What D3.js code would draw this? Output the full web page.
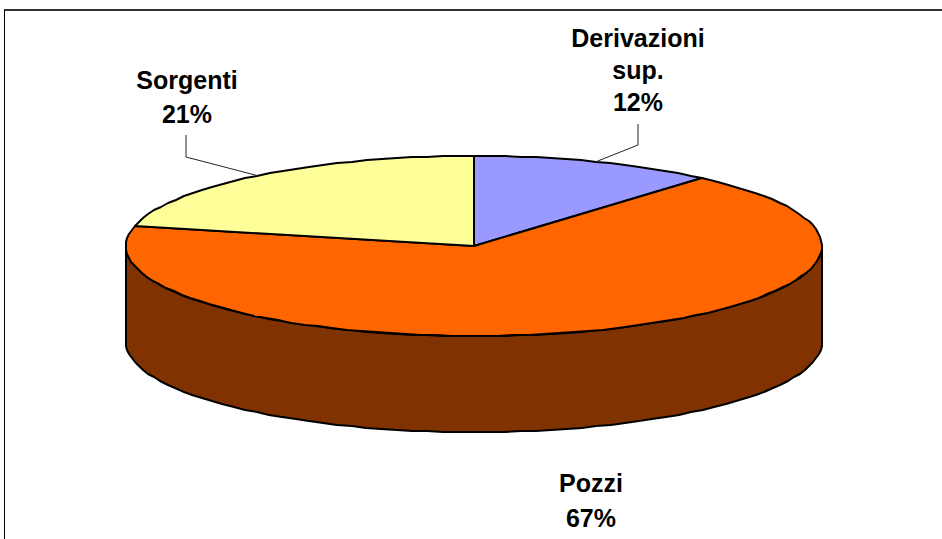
<!DOCTYPE html>
<html>
<head>
<meta charset="utf-8">
<script src="https://cdn.jsdelivr.net/npm/d3@7/dist/d3.min.js"></script>
<style>
html,body{margin:0;padding:0;background:#fff;overflow:hidden}
svg{display:block}
text{font-family:"Liberation Sans",Arial,sans-serif;font-weight:bold;font-size:25px;fill:#000;text-anchor:middle}
</style>
</head>
<body>
<script>
const categories = ["Derivazioni sup.", "Pozzi", "Sorgenti"];
const shares = [11.4, 67.2, 21.4];
const percentLabels = ["12%", "67%", "21%"];
const labelLines = [["Derivazioni", "sup."], ["Pozzi"], ["Sorgenti"]];
const topColors = ["#9999FF", "#FF6600", "#FFFF99"];
const sideColor = "#803300";

const W = 942, H = 539;
const svg = d3.select("body").append("svg").attr("width", W).attr("height", H);

// frame
svg.append("line").attr("x1",4).attr("x2",W).attr("y1",10).attr("y2",10).attr("stroke","#333").attr("stroke-width",2);
svg.append("line").attr("x1",4.5).attr("x2",4.5).attr("y1",10).attr("y2",H).attr("stroke","#000").attr("stroke-width",1);

// ellipse projection of the unit circle
const xS = d3.scaleLinear().domain([-1,1]).range([126,822]);
const yS = d3.scaleLinear().domain([-1,1]).range([156,336]);
const depth = 96;
const px = a => Math.round(xS(Math.sin(a)));
const py = (a, d=0) => Math.round(yS(-Math.cos(a))) + d;
const STEP = Math.PI/70;
const sample = (a0,a1) => { const n=Math.max(1,Math.ceil((a1-a0)/STEP)); return d3.range(n+1).map(i=>a0+(a1-a0)*i/n); };
const line = d3.line();
const pie = d3.pie().sort(null).value(d=>d)(shares);

// cylinder wall
const wallTop = sample(Math.PI/2, 3*Math.PI/2).map(a=>[px(a),py(a)]);
const wallBot = sample(Math.PI/2, 3*Math.PI/2).reverse().map(a=>[px(a),py(a,depth)]);
svg.append("path").attr("d", line(wallTop.concat(wallBot))+"Z")
  .attr("fill",sideColor).attr("stroke","#000").attr("stroke-width",2).attr("stroke-linejoin","round");

// top slices
svg.selectAll("path.slice").data(pie).enter().append("path").attr("class","slice")
  .attr("d", d => line([[xS(0),yS(0)]].concat(sample(d.startAngle,d.endAngle).map(a=>[px(a),py(a)])))+"Z")
  .attr("fill",(d,i)=>topColors[i]).attr("stroke","#000").attr("stroke-width",2).attr("stroke-linejoin","round");

// labels
const labelPos = [{x:638,y:47,dy:32,elbow:[638,145],end:[638,124]},
                  {x:591,y:492,dy:35},
                  {x:187,y:89,dy:34,elbow:[186,157],end:[186,135]}];
pie.forEach((d,i)=>{
  const p = labelPos[i];
  const mid = (d.startAngle+d.endAngle)/2;
  labelLines[i].concat([percentLabels[i]]).forEach((t,k)=>{
    svg.append("text").attr("x",p.x).attr("y",p.y+k*p.dy).text(t);
  });
  if(p.elbow){
    svg.append("path").attr("d", line([[xS(Math.sin(mid)),yS(-Math.cos(mid))],p.elbow,p.end]))
      .attr("fill","none").attr("stroke","#222").attr("stroke-width",1);
  }
});
</script>
</body>
</html>
